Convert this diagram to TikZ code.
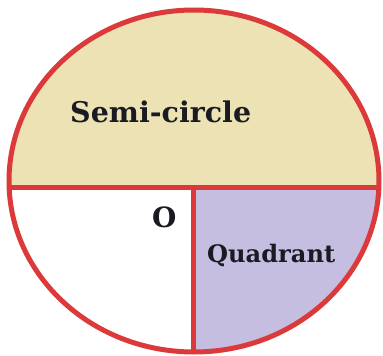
\documentclass[tikz,border=0pt]{standalone}
\usepackage{fontspec}
\setmainfont{DejaVu Serif}
\usepackage{tikz}
\usetikzlibrary{positioning}
\definecolor{cRed}{HTML}{DC3A3A}
\definecolor{cSand}{HTML}{ECE2B4}
\definecolor{cLav}{HTML}{C5BEE1}
\definecolor{cInk}{HTML}{1A1A22}
\tikzset{
  rim/.style={draw=cRed,line width=5bp},
  lbl/.style={font=\bfseries,text=cInk,inner sep=0pt,anchor=base west},
}
\begin{document}
\begin{tikzpicture}[x=1bp,y=-1bp]
  \useasboundingbox (0,0) rectangle (383,356);
  \coordinate (C) at (194,181);
  \coordinate (W) at (9,187);
  \coordinate (E) at (379,187);
  \coordinate (O) at (193,187);
  \coordinate (S) at (193,352);
  \begin{scope}
    \clip (C) ellipse [x radius=185,y radius=171];
    \fill[cSand] (0,0) rectangle (383,187);
    \fill[cLav] (O) rectangle (383,356);
  \end{scope}
  \draw[rim] (W) -- (E);
  \draw[rim] (O) -- (S);
  \draw[rim] (C) ellipse [x radius=185,y radius=171];
  \node[lbl,font=\fontsize{28.6}{30}\selectfont\bfseries] (semi) at (70,122) {Semi-circle};
  \node[lbl,font=\fontsize{28}{30}\selectfont\bfseries] (ctr) at (152,227) {O};
  \node[lbl,font=\fontsize{24.2}{26}\selectfont\bfseries] (quad) at (207,262) {Quadrant};
\end{tikzpicture}
\end{document}
